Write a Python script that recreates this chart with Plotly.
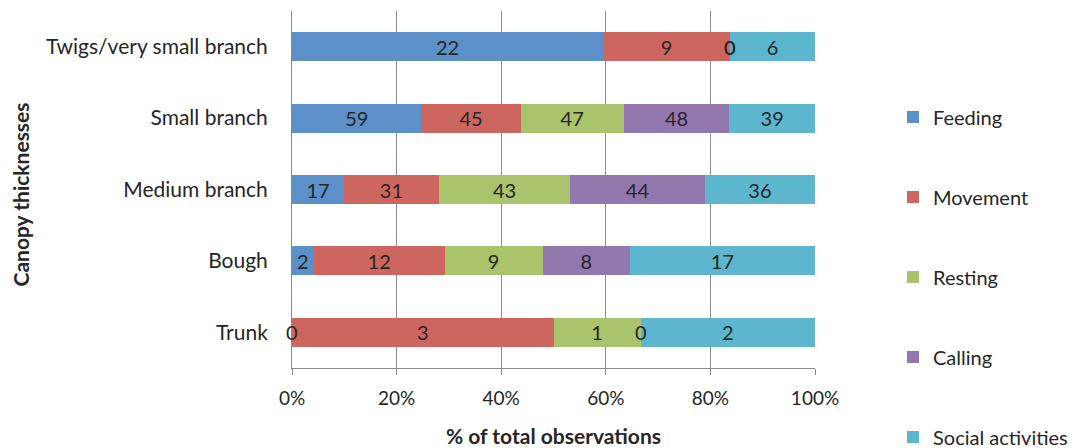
import plotly.graph_objects as go

categories = ["Twigs/very small branch", "Small branch", "Medium branch", "Bough", "Trunk"]
series_names = ["Feeding", "Movement", "Resting", "Calling", "Social activities"]
feeding = [22, 59, 17, 2, 0]
movement = [9, 45, 31, 12, 3]
resting = [0, 47, 43, 9, 1]
calling = [0, 48, 44, 8, 0]
social = [6, 39, 36, 17, 2]
tick_vals = [0, 20, 40, 60, 80, 100]
tick_text = ["0%", "20%", "40%", "60%", "80%", "100%"]

colors = ["#5B90C8", "#CE6660", "#A9C46A", "#9378B0", "#5BB6CE"]
series = [feeding, movement, resting, calling, social]

FONT = "Lato"
TXT = "#262626"
GRID = "#8C8C8C"

totals = [sum(v) for v in zip(*series)]

# legend item vertical centres (container pixels from top)
legend_y_px = [117, 197, 277, 357, 437]
legend_ids = ["legend", "legend2", "legend3", "legend4", "legend5"]

fig = go.Figure()
for i, (name, vals) in enumerate(zip(series_names, series)):
    fig.add_trace(go.Bar(
        y=categories, x=vals, name=name, orientation="h",
        marker=dict(color=colors[i], line=dict(width=0)),
        text=[str(v) if v else "" for v in vals],
        textposition="inside", insidetextanchor="middle", textangle=0,
        constraintext="none",
        textfont=dict(family=FONT, size=20, color=TXT),
        legend=legend_ids[i],
    ))

# zero-valued segments: labels at the stacked position
annotations = []
for ci, cat in enumerate(categories):
    cum = 0.0
    for si, vals in enumerate(series):
        v = vals[ci]
        if v == 0:
            annotations.append(dict(x=cum / totals[ci] * 100, y=cat, xref="x", yref="y",
                                    text="0", showarrow=False,
                                    font=dict(family=FONT, size=20, color=TXT)))
        cum += v

annotations.append(dict(text="<b>% of total observations</b>", xref="paper", yref="paper",
                        x=0.5, y=0, yshift=-67, xanchor="center", yanchor="middle",
                        showarrow=False, font=dict(family=FONT, size=21, color=TXT)))
annotations.append(dict(text="<b>Canopy thicknesses</b>", xref="paper", yref="paper",
                        x=0, xshift=-272, y=0.5, yshift=-5, xanchor="center", yanchor="middle",
                        textangle=-90, showarrow=False,
                        font=dict(family=FONT, size=21, color=TXT)))

layout_legends = {}
for i, lid in enumerate(legend_ids):
    layout_legends[lid] = dict(
        x=893 / 1075, xref="container", xanchor="left",
        y=1 - legend_y_px[i] / 448, yref="container", yanchor="middle",
        font=dict(family=FONT, size=20, color=TXT),
        itemwidth=30, bgcolor="rgba(0,0,0,0)", borderwidth=0,
    )

fig.update_layout(
    barmode="stack", barnorm="percent", bargap=0.594,
    width=1075, height=448,
    margin=dict(l=292, r=260, t=11, b=80, autoexpand=False),
    paper_bgcolor="white", plot_bgcolor="white",
    font=dict(family=FONT, size=20, color=TXT),
    showlegend=True,
    annotations=annotations,
    xaxis=dict(range=[0, 100], tickvals=tick_vals, ticktext=tick_text,
               showgrid=True, gridcolor=GRID, gridwidth=1,
               showline=True, linecolor=GRID, linewidth=1,
               ticks="outside", ticklen=6, tickcolor=GRID,
               ticklabelstandoff=7, zeroline=False,
               tickfont=dict(family=FONT, size=19, color=TXT)),
    yaxis=dict(categoryorder="array", categoryarray=categories,
               range=[4.5, -0.5],
               showline=True, linecolor=GRID, linewidth=1,
               showgrid=False, ticks="", ticklabelstandoff=19,
               tickfont=dict(family=FONT, size=21, color=TXT)),
    **layout_legends,
)

fig.write_html("out.html")
